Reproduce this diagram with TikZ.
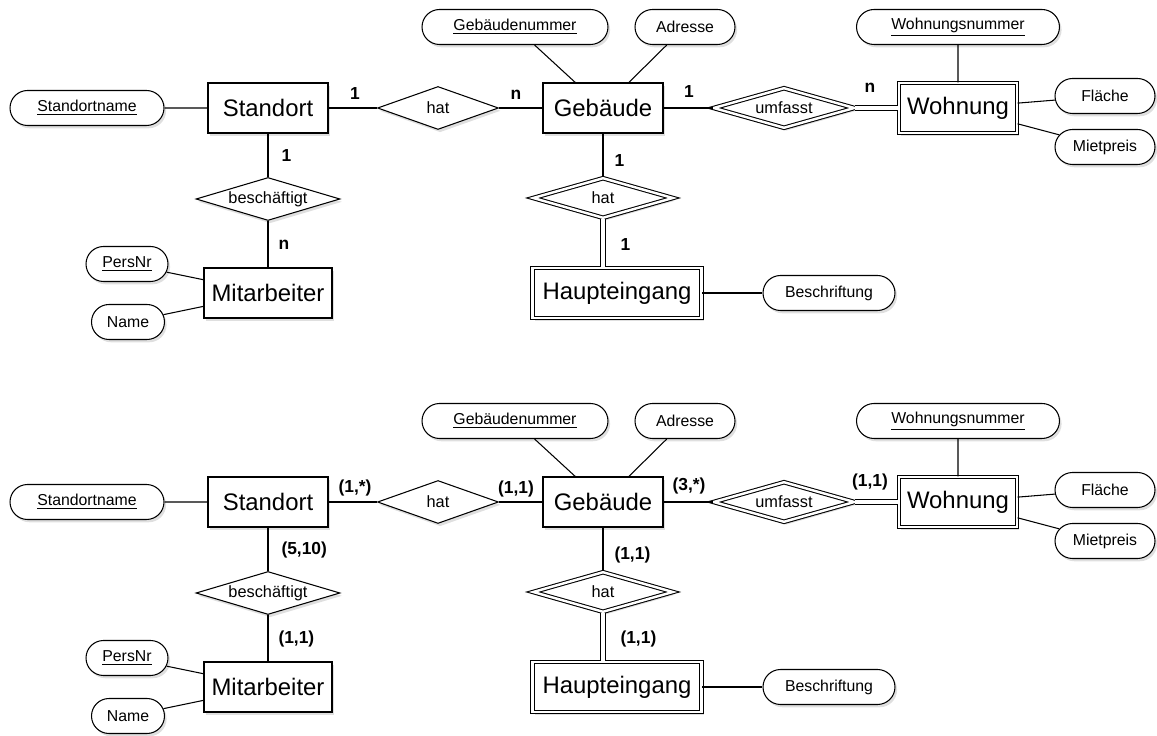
\documentclass[tikz,border=0pt]{standalone}
\usepackage{fontspec}
\setmainfont{Liberation Sans}
\usetikzlibrary{shapes.geometric,shapes.misc,shadows}

\tikzset{
  schatten/.style={drop shadow={opacity=0.25,shadow xshift=1.2pt,shadow yshift=-1.6pt}},
  entity/.style={draw, fill=white, schatten, minimum height=1cm, inner sep=0pt,
    font=\fontsize{13.6}{16}\selectfont},
  weakentity/.style={entity, double, double distance=1.4pt},
  attrib/.style={draw, fill=white, schatten, rounded rectangle, minimum height=0.7cm,
    inner sep=0pt, font=\fontsize{9}{11}\selectfont},
  rel/.style={draw, fill=white, schatten, diamond, aspect=3, inner sep=0pt,
    minimum height=0.86cm, font=\fontsize{9.3}{11}\selectfont},
  weakrel/.style={rel, double, double distance=1.4pt, minimum height=0.8cm},
  total/.style={double, double distance=2pt},
  card/.style={inner sep=0pt, font=\fontsize{9.9}{12}\selectfont\bfseries}
}

\newcommand{\ermodell}[8]{
  \node[attrib, minimum width=3.08cm] (standortname) at (87,108) {\underline{Standortname}};
  \node[entity, minimum width=2.4cm] (standort) at (268,108) {Standort};
  \node[rel, minimum width=2.42cm] (hat) at (438,108) {hat};
  \node[entity, minimum width=2.4cm] (gebaeude) at (603,108) {Gebäude};
  \node[attrib, minimum width=3.72cm] (gebnr) at (515,27) {\underline{Gebäudenummer}};
  \node[attrib, minimum width=2cm] (adresse) at (685,27) {Adresse};
  \node[weakrel, minimum width=2.82cm] (umfasst) at (784,108) {umfasst};
  \node[weakentity, minimum width=2.36cm] (wohnung) at (958,108) {Wohnung};
  \node[attrib, minimum width=4.06cm] (wohnnr) at (958,27) {\underline{Wohnungsnummer}};
  \node[attrib, minimum width=2cm] (flaeche) at (1105,96) {Fläche};
  \node[attrib, minimum width=2cm] (mietpreis) at (1105,147) {Mietpreis};
  \node[rel, minimum width=2.88cm] (beschaeftigt) at (268,199) {beschäftigt};
  \node[entity, minimum width=2.56cm] (mitarbeiter) at (268,293) {Mitarbeiter};
  \node[attrib, minimum width=1.64cm] (persnr) at (127,264) {\underline{PersNr}};
  \node[attrib, minimum width=1.46cm] (name) at (128,322) {Name};
  \node[weakrel, minimum width=2.8cm] (hateing) at (603,198) {hat};
  \node[weakentity, minimum width=3.38cm] (haupteingang) at (617,293) {Haupteingang};
  \node[attrib, minimum width=2.64cm] (beschriftung) at (829,293) {Beschriftung};
  \draw (standortname) -- (standort);
  \draw (standort) -- (hat);
  \draw (hat) -- (gebaeude);
  \draw (gebnr) -- (gebaeude);
  \draw (adresse) -- (gebaeude);
  \draw (gebaeude) -- (umfasst);
  \draw[total] (umfasst) -- (wohnung);
  \draw (wohnnr) -- (wohnung);
  \draw (flaeche) -- (wohnung);
  \draw (mietpreis) -- (wohnung);
  \draw (standort) -- (beschaeftigt);
  \draw (beschaeftigt) -- (mitarbeiter);
  \draw (persnr) -- (mitarbeiter);
  \draw (name) -- (mitarbeiter);
  \draw (gebaeude) -- (hateing);
  \draw[total] (hateing.south) -- (hateing.south |- haupteingang.north);
  \draw (haupteingang) -- (beschriftung);
  \node[card] (card1) at (355,94) {#1};
  \node[card] (card2) at (516,95) {#2};
  \node[card] (card3) at (689,92) {#3};
  \node[card] (card4) at (870,88) {#4};
  \node[card, anchor=west] (card5) at (281,156) {#5};
  \node[card, anchor=west] (card6) at (278,245) {#6};
  \node[card, anchor=west] (card7) at (614,161) {#7};
  \node[card, anchor=west] (card8) at (620,245) {#8};
}

\begin{document}
\begin{tikzpicture}[x=0.02cm, y=-0.02cm, line width=0.6pt]
\useasboundingbox (0,0) rectangle (1157,736);
% ER-Modell mit Chen-Notation
\begin{scope}[name prefix=chen-]
\ermodell{1}{n}{1}{n}{1}{n}{1}{1}
\end{scope}
% ER-Modell mit (min,max)-Notation
\begin{scope}[shift={(0,394)}, name prefix=minmax-]
\ermodell{(1,*)}{(1,1)}{(3,*)}{(1,1)}{(5,10)}{(1,1)}{(1,1)}{(1,1)}
\end{scope}
\end{tikzpicture}
\end{document}
